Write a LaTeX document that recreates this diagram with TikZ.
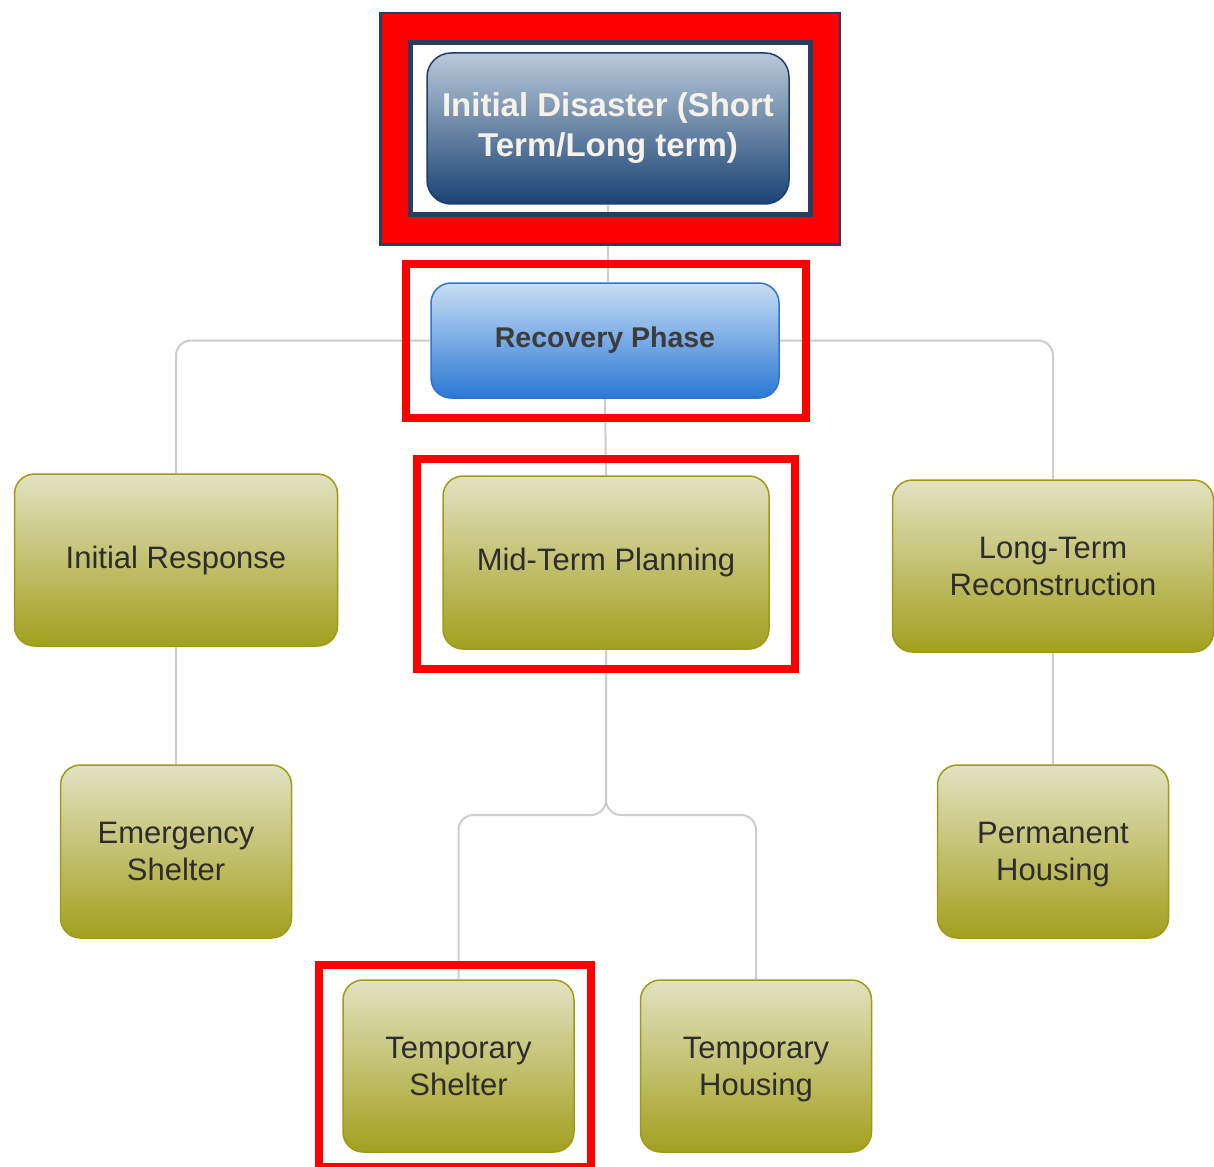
\documentclass[tikz,border=0pt]{standalone}
\usepackage{fontspec}
\setmainfont{Liberation Sans}
\usetikzlibrary{backgrounds}
\definecolor{navy}{RGB}{40,62,94}
\definecolor{conngray}{RGB}{205,205,205}
\definecolor{frred}{RGB}{255,0,0}
\definecolor{gtop}{RGB}{226,226,194}
\definecolor{gbot}{RGB}{162,160,30}
\definecolor{gborder}{RGB}{158,156,22}
\definecolor{btop}{RGB}{200,222,244}
\definecolor{bbot}{RGB}{42,120,213}
\definecolor{bborder}{RGB}{47,116,204}
\definecolor{dtop}{RGB}{185,201,217}
\definecolor{dbot}{RGB}{26,67,115}
\definecolor{dborder}{RGB}{28,62,108}
\definecolor{gtext}{RGB}{45,45,45}
\definecolor{ttext}{RGB}{246,242,232}
\definecolor{rtext}{RGB}{60,60,60}
\tikzset{
  greenbox/.style={draw=gborder, line width=1.5pt, rounded corners=20pt,
    top color=gtop, bottom color=gbot, inner sep=0pt, align=center,
    text=gtext, font=\fontsize{31}{37}\selectfont},
  conn/.style={draw=conngray, line width=2pt, rounded corners=15pt},
  redframe/.style={draw=frred, line width=8pt},
}
\begin{document}
\begin{tikzpicture}[x=1pt, y=-1pt]
\useasboundingbox (0,0) rectangle (1214,1166);

% nodes
\node[draw=dborder, line width=1.5pt, rounded corners=24pt, top color=dtop, bottom color=dbot,
  minimum width=362pt, minimum height=151pt, inner sep=0pt, align=center,
  text=ttext, font=\bfseries\fontsize{33}{40}\selectfont]
  (top) at (608,128.5) {Initial Disaster (Short\\Term/Long term)};
\node[draw=bborder, line width=1.5pt, rounded corners=20pt, top color=btop, bottom color=bbot,
  minimum width=348pt, minimum height=115pt, inner sep=0pt,
  text=rtext, font=\bfseries\fontsize{28.5}{34}\selectfont]
  (rec) at (605,340.5) {Recovery Phase};

\node[greenbox, minimum width=323pt, minimum height=172pt] (init) at (176,560) {Initial Response};
\node[greenbox, minimum width=326pt, minimum height=173pt] (mid) at (606,562.5) {Mid-Term Planning};
\node[greenbox, minimum width=321pt, minimum height=172pt] (long) at (1053,566) {Long-Term\\Reconstruction};
\node[greenbox, minimum width=231pt, minimum height=173pt] (emerg) at (176,851.5) {Emergency\\Shelter};
\node[greenbox, minimum width=231pt, minimum height=173pt, text depth=0pt] (perm) at (1053,851.5) {Permanent\\Housing};
\node[greenbox, minimum width=231pt, minimum height=172pt] (tshel) at (458.5,1066) {Temporary\\Shelter};
\node[greenbox, minimum width=231pt, minimum height=172pt, text depth=0pt] (thous) at (756,1066) {Temporary\\Housing};

\coordinate (split) at (606,815);

% connectors (behind nodes)
\begin{scope}[on background layer]
  \draw[conn] (top.south -| 608,0) -- (rec.north -| 608,0);
  \draw[conn] (rec.west) -| (init.north);
  \draw[conn] (rec.east) -| (long.north);
  \draw[conn] (rec.south) -- (mid.north);
  \draw[conn] (init.south) -- (emerg.north);
  \draw[conn] (long.south) -- (perm.north);
  \draw[conn] (mid.south) -- (split) -| (tshel.north);
  \draw[conn] (mid.south) -- (split) -| (thous.north);
\end{scope}

% highlight frames
\draw[navy, line width=3.5pt] (380.5,13.5) rectangle (839.5,244.5);
\draw[frred, line width=26pt] (395,27.5) rectangle (825.5,230);
\draw[navy, line width=5pt] (410.5,42.5) rectangle (810.5,214.5);
\draw[redframe] (406,264) rectangle (805.5,417.5);
\draw[redframe] (416.5,459) rectangle (794.5,669);
\draw[redframe] (319,965) rectangle (591,1167);
\end{tikzpicture}
\end{document}
